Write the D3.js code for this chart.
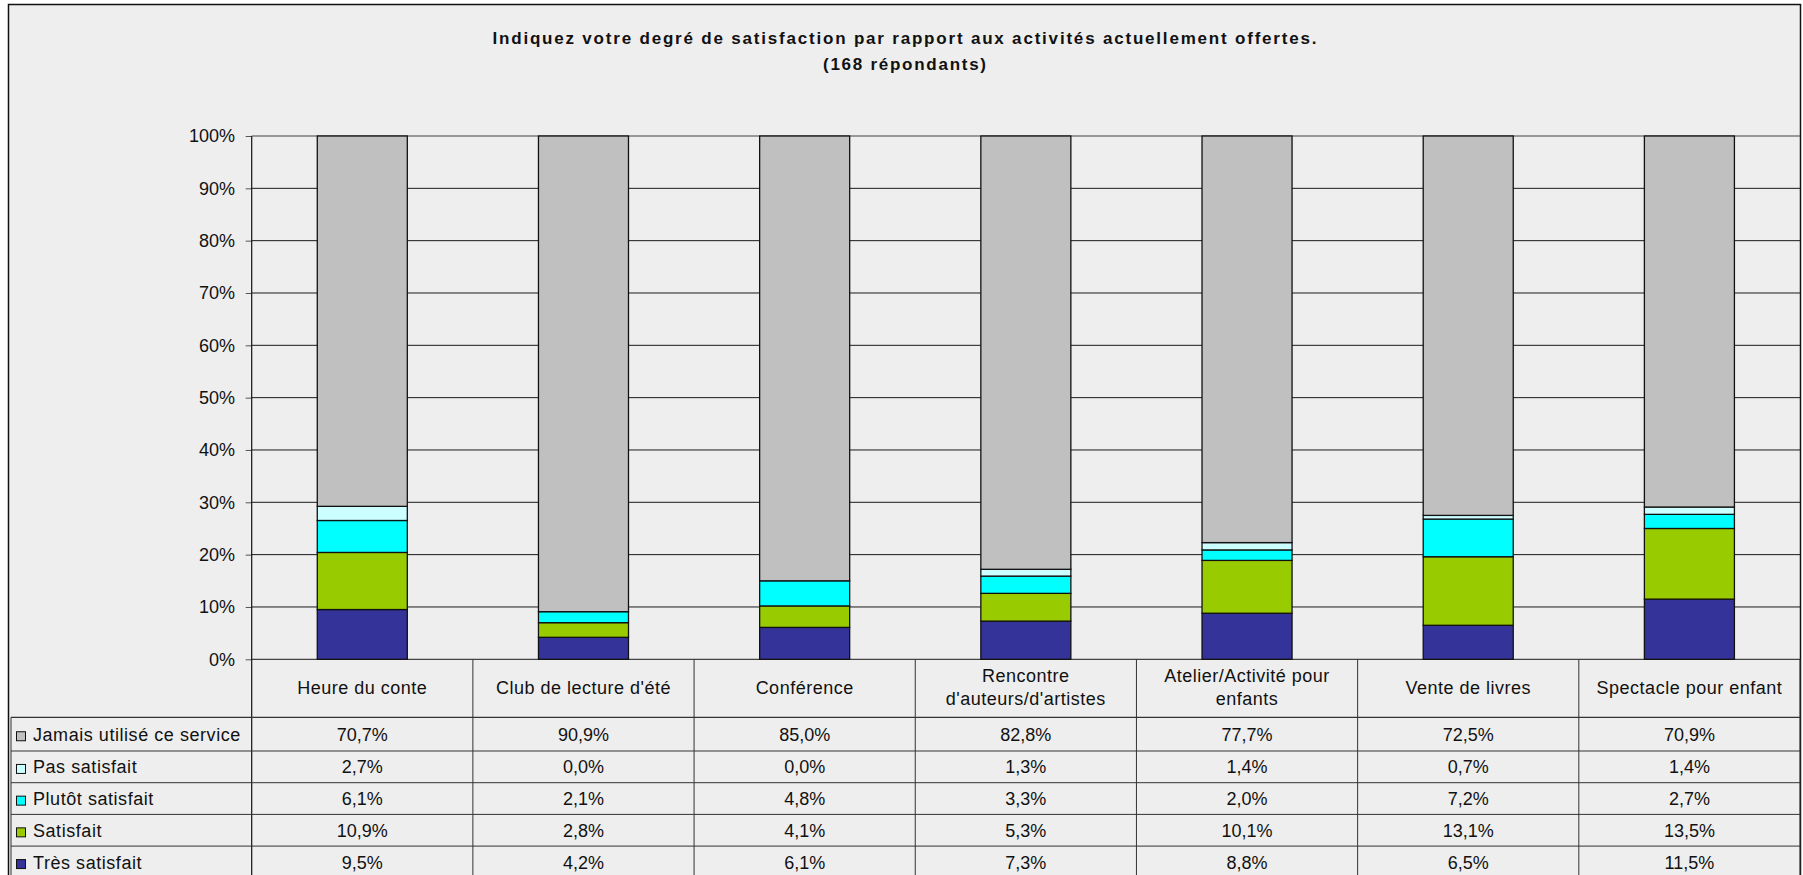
<!DOCTYPE html>
<html>
<head>
<meta charset="utf-8">
<script src="https://cdn.jsdelivr.net/npm/d3@7"></script>
<style>
  html, body { margin: 0; padding: 0; background: #ffffff; }
  svg { display: block; }
  text { font-family: "Liberation Sans", Arial, sans-serif; fill: #111; }
</style>
</head>
<body>
<svg id="chart" width="1803" height="875"></svg>
<script>
// ---- Data ----
const titleLines = ["Indiquez votre degré de satisfaction par rapport aux activités actuellement offertes.", "(168 répondants)"];
const categories = ["Heure du conte", "Club de lecture d'été", "Conférence", "Rencontre d'auteurs/d'artistes", "Atelier/Activité pour enfants", "Vente de livres", "Spectacle pour enfant"];
const seriesNames = ["Jamais utilisé ce service", "Pas satisfait", "Plutôt satisfait", "Satisfait", "Très satisfait"];
const jamais    = [70.7, 90.9, 85.0, 82.8, 77.7, 72.5, 70.9];
const pas       = [2.7, 0.0, 0.0, 1.3, 1.4, 0.7, 1.4];
const plutot    = [6.1, 2.1, 4.8, 3.3, 2.0, 7.2, 2.7];
const satisfait = [10.9, 2.8, 4.1, 5.3, 10.1, 13.1, 13.5];
const tres      = [9.5, 4.2, 6.1, 7.3, 8.8, 6.5, 11.5];
const seriesValues = [jamais, pas, plutot, satisfait, tres];
const seriesColors = ["#C0C0C0", "#CCFFFF", "#00FFFF", "#99CC00", "#333399"];
const yTicks = [0, 0.1, 0.2, 0.3, 0.4, 0.5, 0.6, 0.7, 0.8, 0.9, 1.0];

// ---- Layout ----
const svg = d3.select("#chart");
const frame = {x: 8.5, y: 4.5, w: 1792, h: 890};
const plot = {left: 251.7, right: 1800, top: 136, bottom: 659.3};
const legendLeft = 11;
const tableTop = 717.3;
const rowH = 31.7;
const fontSize = 18;

svg.append("rect")
  .attr("x", frame.x).attr("y", frame.y)
  .attr("width", frame.w).attr("height", frame.h)
  .attr("fill", "#EEEEEE").attr("stroke", "#111").attr("stroke-width", 1.5);

// Title
const titleW = [824, 163];
titleLines.forEach((t, i) => {
  svg.append("text")
    .attr("x", 904.5).attr("y", 43.5 + i * 26)
    .attr("text-anchor", "middle")
    .attr("font-size", 17).attr("font-weight", "bold")
    .attr("textLength", titleW[i]).attr("lengthAdjust", "spacing")
    .text(t);
});

// Scales
const x = d3.scaleBand().domain(categories).range([plot.left, plot.right])
  .paddingInner(0.593).paddingOuter(0.2965);
const y = d3.scaleLinear().domain([0, 1]).range([plot.bottom, plot.top]);
const step = x.step();
const colStart = i => plot.left + i * step;

// Gridlines
svg.append("g").selectAll("line").data(yTicks).join("line")
  .attr("x1", plot.left).attr("x2", plot.right)
  .attr("y1", d => y(d)).attr("y2", d => y(d))
  .attr("stroke", (d) => d === 1 ? "#444" : "#1a1a1a").attr("stroke-width", 1);

// Stacked bars (bottom: Très satisfait ... top: Jamais)
const rows = categories.map((c, i) => {
  const r = {cat: c};
  seriesNames.forEach((s, k) => { r[s] = seriesValues[k][i]; });
  return r;
});
const stackKeys = seriesNames.slice().reverse();
const stacked = d3.stack().keys(stackKeys).offset(d3.stackOffsetExpand)(rows);
const colorOf = d3.scaleOrdinal().domain(seriesNames).range(seriesColors);

svg.append("g").selectAll("g").data(stacked).join("g")
  .attr("fill", d => colorOf(d.key))
  .selectAll("rect").data(d => d.filter(p => p[1] - p[0] > 0)).join("rect")
  .attr("x", d => x(d.data.cat))
  .attr("width", x.bandwidth())
  .attr("y", d => y(d[1]))
  .attr("height", d => y(d[0]) - y(d[1]))
  .attr("stroke", "#111").attr("stroke-width", 1.3);

// Y axis
const yAxis = d3.axisLeft(y).tickValues(yTicks).tickFormat(d3.format(".0%"))
  .tickSize(6).tickPadding(10.7);
const gy = svg.append("g").attr("transform", `translate(${plot.left},0)`).call(yAxis);
gy.select(".domain").remove();
gy.selectAll(".tick line").attr("stroke", "#555");
gy.selectAll(".tick text").attr("font-size", fontSize)
  .attr("font-family", "Liberation Sans, Arial, sans-serif").attr("fill", "#111");
svg.append("line")
  .attr("x1", plot.left).attr("x2", plot.left)
  .attr("y1", plot.top).attr("y2", 880)
  .attr("stroke", "#111").attr("stroke-width", 1.2);

// Data table
const tableBottom = 880;
const gt = svg.append("g");
// vertical column lines
d3.range(1, categories.length + 1).forEach(i => {
  gt.append("line")
    .attr("x1", colStart(i)).attr("x2", colStart(i))
    .attr("y1", plot.bottom).attr("y2", tableBottom)
    .attr("stroke", "#333").attr("stroke-width", 1);
});
// legend column left line
gt.append("line").attr("x1", legendLeft).attr("x2", legendLeft)
  .attr("y1", tableTop).attr("y2", tableBottom).attr("stroke", "#333").attr("stroke-width", 1);
// horizontal row lines
const rowTop = k => k === 0 ? tableTop : tableTop + 2 + k * rowH;
seriesNames.forEach((s, k) => {
  gt.append("line").attr("x1", legendLeft).attr("x2", plot.right)
    .attr("y1", rowTop(k)).attr("y2", rowTop(k))
    .attr("stroke", "#333").attr("stroke-width", k === 0 ? 1.3 : 1);
});

// category header labels, wrapped
const headerMid = (plot.bottom + tableTop) / 2;
categories.forEach((c, i) => {
  const cx = colStart(i) + step / 2;
  const t = gt.append("text").attr("text-anchor", "middle")
    .attr("font-size", fontSize).attr("letter-spacing", 0.5);
  const words = c.split(" ");
  let lines = [], cur = [];
  const probe = gt.append("text").attr("font-size", fontSize).attr("letter-spacing", 0.5);
  words.forEach(w => {
    const test = cur.concat([w]).join(" ");
    probe.text(test);
    if (probe.node().getComputedTextLength() > step - 16 && cur.length) {
      lines.push(cur.join(" ")); cur = [w];
    } else cur.push(w);
  });
  lines.push(cur.join(" "));
  probe.remove();
  const lh = 23.3;
  const base = headerMid + 5.3 - (lines.length - 1) * lh / 2;
  lines.forEach((ln, j) => {
    t.append("tspan").attr("x", cx).attr("y", base + j * lh).text(ln);
  });
});

// rows: legend + values
const fmt = v => v.toFixed(1).replace(".", ",") + "%";
seriesNames.forEach((s, k) => {
  const top = k === 0 ? tableTop + 2 : rowTop(k);
  const mid = k === 0 ? (tableTop + rowTop(1)) / 2 : top + rowH / 2;
  const base = mid + 6.6;
  gt.append("rect").attr("x", 16.5).attr("y", base - 9).attr("width", 9).attr("height", 9)
    .attr("fill", seriesColors[k]).attr("stroke", "#111").attr("stroke-width", 1);
  gt.append("text").attr("x", 33).attr("y", base)
    .attr("font-size", fontSize).attr("letter-spacing", 0.55).text(s);
  seriesValues[k].forEach((v, i) => {
    gt.append("text").attr("x", colStart(i) + step / 2).attr("y", base)
      .attr("text-anchor", "middle").attr("font-size", fontSize).text(fmt(v));
  });
});
</script>
</body>
</html>
